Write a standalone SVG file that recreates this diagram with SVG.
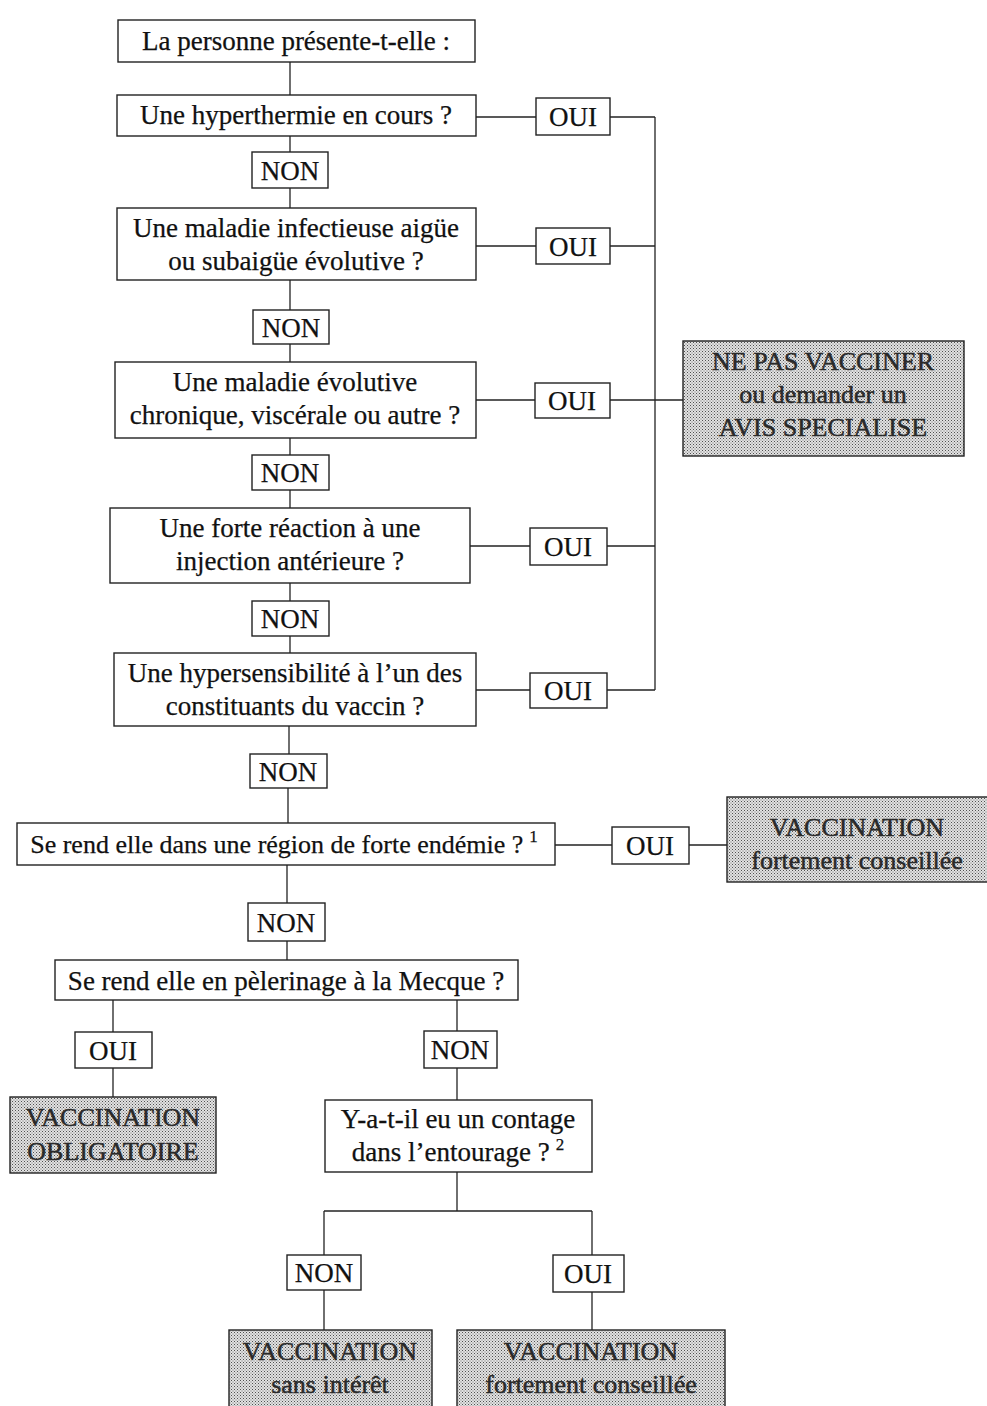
<svg xmlns="http://www.w3.org/2000/svg" width="987" height="1406" viewBox="0 0 987 1406">
<style>
  .box { fill: #ffffff; stroke: #222; stroke-width: 1.4; }
  .res { fill: url(#dots); stroke: #222; stroke-width: 1.4; }
  .t { font-family: "Liberation Serif", "Times New Roman", serif; font-size: 27px; fill: #111; text-anchor: middle; stroke: #111; stroke-width: 0.25; }
  .rt { font-family: "Liberation Serif", "Times New Roman", serif; font-size: 26px; fill: #2a2a2a; text-anchor: middle; stroke: #2a2a2a; stroke-width: 0.5; }
  .sup { font-size: 17px; }
  .ln { fill: none; stroke: #222; stroke-width: 1.3; }
</style>
<defs>
  <pattern id="dots" width="3" height="3" patternUnits="userSpaceOnUse">
    <rect width="3" height="3" fill="#e2e2e2"/>
    <rect x="0" y="0" width="1" height="1" fill="#505050"/>
    <rect x="1.5" y="1.5" width="1" height="1" fill="#707070"/>
  </pattern>
</defs>
<rect width="987" height="1406" fill="#ffffff"/>

<g id="connectors" class="ln">
  <path d="M290 62 V95"/>
  <path d="M290 136 V152"/>
  <path d="M290 188 V208"/>
  <path d="M290 280 V310"/>
  <path d="M290 344 V362"/>
  <path d="M290 438 V455"/>
  <path d="M290 490 V508"/>
  <path d="M290 583 V601"/>
  <path d="M290 636 V653"/>
  <path d="M289 726 V754"/>
  <path d="M288 788 V823"/>
  <path d="M287 865 V903"/>
  <path d="M287 941 V960"/>
  <path d="M476 117 H536"/><path d="M610 117 H655"/>
  <path d="M476 246 H536"/><path d="M610 246 H655"/>
  <path d="M476 400 H535"/><path d="M610 400 H683"/>
  <path d="M470 546 H530"/><path d="M607 546 H655"/>
  <path d="M476 690 H530"/><path d="M607 690 H655"/>
  <path d="M655 117 V690"/>
  <path d="M555 845 H612"/><path d="M689 845 H727"/>
  <path d="M113 1000 V1032"/><path d="M113 1068 V1097"/>
  <path d="M457 1000 V1031"/><path d="M457 1068 V1100"/>
  <path d="M457 1172 V1211"/>
  <path d="M324 1211 H592"/>
  <path d="M324 1211 V1255"/><path d="M324 1290 V1330"/>
  <path d="M592 1211 V1255"/><path d="M592 1292 V1330"/>
</g>

<g id="q0"><rect class="box" x="118" y="20" width="357" height="42"/><text class="t" x="296" y="50">La personne présente-t-elle :</text></g>
<g id="q1"><rect class="box" x="117" y="95" width="359" height="41"/><text class="t" x="296" y="124">Une hyperthermie en cours ?</text></g>
<g id="oui1"><rect class="box" x="536" y="98" width="74" height="37"/><text class="t" x="573" y="126">OUI</text></g>
<g id="non1"><rect class="box" x="252" y="152" width="76" height="36"/><text class="t" x="290" y="180">NON</text></g>
<g id="q2"><rect class="box" x="117" y="208" width="359" height="72"/><text class="t" x="296" y="237">Une maladie infectieuse aigüe</text><text class="t" x="296" y="270">ou subaigüe évolutive ?</text></g>
<g id="oui2"><rect class="box" x="536" y="228" width="74" height="36"/><text class="t" x="573" y="256">OUI</text></g>
<g id="non2"><rect class="box" x="253" y="310" width="76" height="34"/><text class="t" x="291" y="337">NON</text></g>
<g id="q3"><rect class="box" x="115" y="362" width="361" height="76"/><text class="t" x="295" y="391">Une maladie évolutive</text><text class="t" x="295" y="424">chronique, viscérale ou autre ?</text></g>
<g id="oui3"><rect class="box" x="535" y="383" width="75" height="35"/><text class="t" x="572" y="410">OUI</text></g>
<g id="r1"><rect class="res" x="683" y="341" width="281" height="115"/><text class="rt" x="823" y="370">NE PAS VACCINER</text><text class="rt" x="823" y="403">ou demander un</text><text class="rt" x="823" y="436">AVIS SPECIALISE</text></g>
<g id="non3"><rect class="box" x="252" y="455" width="77" height="35"/><text class="t" x="290" y="482">NON</text></g>
<g id="q4"><rect class="box" x="110" y="508" width="360" height="75"/><text class="t" x="290" y="537">Une forte réaction à une</text><text class="t" x="290" y="570">injection antérieure ?</text></g>
<g id="oui4"><rect class="box" x="530" y="528" width="77" height="37"/><text class="t" x="568" y="556">OUI</text></g>
<g id="non4"><rect class="box" x="252" y="601" width="77" height="35"/><text class="t" x="290" y="628">NON</text></g>
<g id="q5"><rect class="box" x="114" y="653" width="362" height="73"/><text class="t" x="295" y="682">Une hypersensibilité à l’un des</text><text class="t" x="295" y="715">constituants du vaccin ?</text></g>
<g id="oui5"><rect class="box" x="530" y="673" width="77" height="35"/><text class="t" x="568" y="700">OUI</text></g>
<g id="non5"><rect class="box" x="250" y="754" width="77" height="34"/><text class="t" x="288" y="781">NON</text></g>
<g id="q6"><rect class="box" x="17" y="823" width="538" height="42"/><text class="t" x="284" y="853" style="font-size:26px">Se rend elle dans une région de forte endémie ?<tspan class="sup" dx="6" dy="-11">1</tspan></text></g>
<g id="oui6"><rect class="box" x="612" y="827" width="77" height="37"/><text class="t" x="650" y="855">OUI</text></g>
<g id="r2"><rect class="res" x="727" y="797" width="262" height="85"/><text class="rt" x="857" y="836">VACCINATION</text><text class="rt" x="857" y="869">fortement conseillée</text></g>
<g id="non6"><rect class="box" x="248" y="903" width="77" height="38"/><text class="t" x="286" y="932">NON</text></g>
<g id="q7"><rect class="box" x="55" y="960" width="463" height="40"/><text class="t" x="286" y="990">Se rend elle en pèlerinage à la Mecque ?</text></g>
<g id="oui7"><rect class="box" x="75" y="1032" width="77" height="36"/><text class="t" x="113" y="1060">OUI</text></g>
<g id="non7"><rect class="box" x="424" y="1031" width="73" height="37"/><text class="t" x="460" y="1059">NON</text></g>
<g id="r3"><rect class="res" x="10" y="1097" width="206" height="76"/><text class="rt" x="113" y="1126">VACCINATION</text><text class="rt" x="113" y="1160">OBLIGATOIRE</text></g>
<g id="q8"><rect class="box" x="325" y="1100" width="267" height="72"/><text class="t" x="458" y="1128">Y-a-t-il eu un contage</text><text class="t" x="458" y="1161">dans l’entourage ?<tspan class="sup" dx="6" dy="-11">2</tspan></text></g>
<g id="non8"><rect class="box" x="287" y="1255" width="74" height="35"/><text class="t" x="324" y="1282">NON</text></g>
<g id="oui8"><rect class="box" x="553" y="1255" width="71" height="37"/><text class="t" x="588" y="1283">OUI</text></g>
<g id="r4"><rect class="res" x="229" y="1330" width="203" height="80"/><text class="rt" x="330" y="1360">VACCINATION</text><text class="rt" x="330" y="1393">sans intérêt</text></g>
<g id="r5"><rect class="res" x="457" y="1330" width="268" height="80"/><text class="rt" x="591" y="1360">VACCINATION</text><text class="rt" x="591" y="1393">fortement conseillée</text></g>
</svg>
